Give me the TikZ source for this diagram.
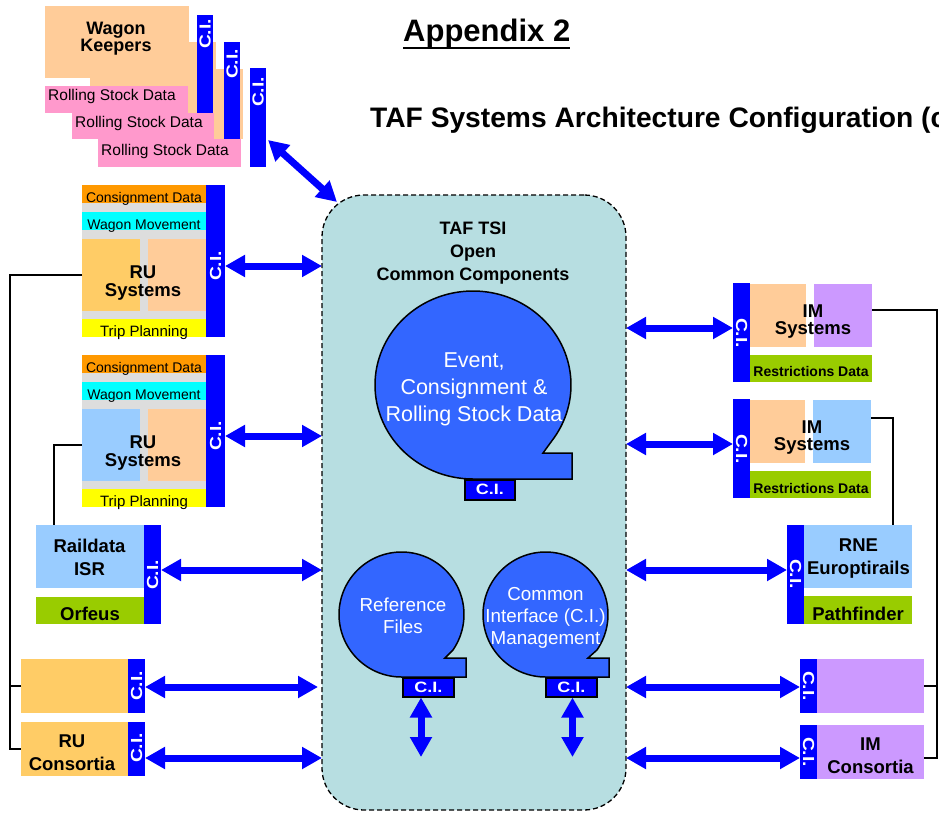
\documentclass[tikz,border=0pt]{standalone}
\usepackage{fontspec}
\setmainfont{Liberation Sans}
\usepackage{graphicx}
\usetikzlibrary{arrows.meta,calc}
\definecolor{peach}{HTML}{FFCC99}
\definecolor{gold}{HTML}{FFCC66}
\definecolor{orng}{HTML}{FF9900}
\definecolor{cyn}{HTML}{00FFFF}
\definecolor{yel}{HTML}{FFFF00}
\definecolor{lgray}{HTML}{DDDDDD}
\definecolor{lblue}{HTML}{99CCFF}
\definecolor{grn}{HTML}{99CC00}
\definecolor{purp}{HTML}{CC99FF}
\definecolor{pinkc}{HTML}{FF99CC}
\definecolor{cibl}{HTML}{0000FF}
\definecolor{circ}{HTML}{3366FF}
\definecolor{tafc}{RGB}{183,222,225}
\newcommand\mkbox[6]{\node[blk,fill=#2,minimum width=#5pt,minimum height=#6pt] (#1) at (#3,#4) {};}
\newcommand\cilabel{\scalebox{1.2}[1]{C.I.}}
\begin{document}
\begin{tikzpicture}[x=1pt,y=-1pt,
  blk/.style={rectangle,inner sep=0pt,outer sep=0pt,anchor=north west,draw=none},
  lbl/.style={inner sep=0pt,align=center,font=\fontsize{18.5}{17.5}\selectfont\bfseries},
  lblw/.style={inner sep=0pt,align=center,font=\fontsize{18.5}{23}\selectfont\bfseries},
  sm/.style={inner sep=0pt,anchor=base,font=\fontsize{14}{14}\selectfont},
  smb/.style={inner sep=0pt,anchor=base,font=\fontsize{14}{14}\selectfont\bfseries},
  rsd/.style={inner sep=0pt,anchor=base west,font=\fontsize{15.5}{15.5}\selectfont},
  citxt/.style={inner sep=0pt,text=white,font=\fontsize{16}{16}\selectfont\bfseries},
  citab/.style={rectangle,fill=cibl,draw=black,line width=1.5pt,inner sep=0pt,anchor=north west,text=white,font=\fontsize{15}{15}\selectfont\bfseries},
  tapeshape/.style={fill=circ,draw=black,line width=1.5pt},
  dbl/.style={draw=cibl,line width=7pt,{Triangle[length=20pt,width=21pt]}-{Triangle[length=20pt,width=21pt]}},
  conn/.style={draw=black,line width=2pt},
  wt/.style={inner sep=0pt,align=center,text=white}]
\useasboundingbox (0,0) rectangle (939,824);
\fill[white] (0,0) rectangle (939,824);
\clip (0,0) rectangle (939,824);

% titles
\node[anchor=base west,inner sep=0pt,font=\fontsize{31}{31}\selectfont\bfseries] (app) at (403,42) {Appendix 2};
\draw[line width=2.5pt] ([yshift=-6pt]app.base west) -- ([yshift=-6pt]app.base east);
\node[anchor=base west,inner sep=0pt,font=\fontsize{28.2}{28.2}\selectfont\bfseries] (ttl) at (370,128) {TAF Systems Architecture Configuration (c};

% wagon keepers (back to front)
\mkbox{wkpc}{peach}{117}{69}{126}{70}
\mkbox{wkrc}{pinkc}{98}{139}{143}{28}
\mkbox{wkcc}{cibl}{250}{68}{16}{99}
\mkbox{wkpb}{peach}{90}{42}{126}{71}
\mkbox{wkrb}{pinkc}{72}{113}{142}{26}
\mkbox{wkcb}{cibl}{224}{42}{16}{97}
\mkbox{wkpa}{peach}{45}{6}{144}{72}
\mkbox{wkra}{pinkc}{45}{86}{143}{27}
\mkbox{wkca}{cibl}{197}{15}{16}{98}
\node[lbl,font=\fontsize{18}{17}\selectfont\bfseries] (wkt) at (116,39) {Wagon\\Keepers};
\node[rsd] (wkta) at (48,101) {Rolling Stock Data};
\node[rsd] (wktb) at (75,128) {Rolling Stock Data};
\node[rsd] (wktc) at (101,155) {Rolling Stock Data};
\node[citxt,rotate=90] (wkia) at (205,34) {\cilabel};
\node[citxt,rotate=90] (wkib) at (232,64) {\cilabel};
\node[citxt,rotate=90] (wkic) at (258,92) {\cilabel};

% RU card 1
\mkbox{rua}{lgray}{82}{185}{124}{152}
\mkbox{ruacd}{orng}{82}{185}{124}{18}
\mkbox{ruawm}{cyn}{82}{212}{124}{18}
\mkbox{ruaa}{gold}{82}{239}{58}{72}
\mkbox{ruab}{peach}{148}{239}{58}{72}
\mkbox{ruatp}{yel}{82}{319}{124}{18}
\mkbox{ruaci}{cibl}{206}{185}{19}{152}
\node[sm] (ruat1) at (144,202) {Consignment Data};
\node[sm] (ruat2) at (144,229) {Wagon Movement};
\node[lbl] (ruat3) at (143,283) {RU\\Systems};
\node[sm,font=\fontsize{15}{15}\selectfont] (ruat4) at (144,336) {Trip Planning};
\node[citxt,rotate=90] (ruai) at (215.5,266) {\cilabel};

% RU card 2
\mkbox{rub}{lgray}{82}{355}{124}{152}
\mkbox{rubcd}{orng}{82}{355}{124}{18}
\mkbox{rubwm}{cyn}{82}{382}{124}{18}
\mkbox{rubba}{lblue}{82}{409}{58}{72}
\mkbox{rubbb}{peach}{148}{409}{58}{72}
\mkbox{rubtp}{yel}{82}{489}{124}{18}
\mkbox{rubci}{cibl}{206}{355}{19}{152}
\node[sm] (rubt1) at (144,372) {Consignment Data};
\node[sm] (rubt2) at (144,399) {Wagon Movement};
\node[lbl] (rubt3) at (143,453) {RU\\Systems};
\node[sm,font=\fontsize{15}{15}\selectfont] (rubt4) at (144,506) {Trip Planning};
\node[citxt,rotate=90] (rubi) at (215.5,436) {\cilabel};

% Raildata ISR
\mkbox{rd}{lblue}{36}{525}{108}{63}
\mkbox{orf}{grn}{36}{597}{108}{27}
\mkbox{rdci}{cibl}{144}{525}{17}{99}
\node[lblw] (rdt) at (89.5,557) {Raildata\\ISR};
\node[inner sep=0pt,anchor=base,font=\fontsize{18.5}{18.5}\selectfont\bfseries] (orft) at (90,620) {Orfeus};
\node[citxt,rotate=90] (rdi) at (152.5,575) {\cilabel};

% RU lower boxes
\mkbox{rux}{gold}{21}{659}{107}{54}
\mkbox{ruxci}{cibl}{128}{659}{17}{54}
\node[citxt,rotate=90] (ruxi) at (136.5,686) {\cilabel};
\mkbox{ruc}{gold}{21}{722}{107}{54}
\mkbox{rucci}{cibl}{128}{722}{17}{54}
\node[lblw] (ruct) at (72,752.5) {RU\\Consortia};
\node[citxt,rotate=90] (ruci) at (136.5,748) {\cilabel};

% IM card 1
\mkbox{imaci}{cibl}{733}{283}{17}{99}
\mkbox{imaa}{peach}{750}{284}{56}{63}
\mkbox{imab}{purp}{814}{284}{58}{63}
\mkbox{imard}{grn}{750}{355}{122}{27}
\node[lbl] (imat) at (813,321.5) {IM\\Systems};
\node[smb] (imat2) at (811,376) {Restrictions Data};
\node[citxt,rotate=-90] (imai) at (741.5,333) {\cilabel};

% IM card 2
\mkbox{imbci}{cibl}{733}{399}{17}{99}
\mkbox{imba}{peach}{750}{400}{55}{63}
\mkbox{imbb}{lblue}{813}{400}{58}{63}
\mkbox{imbrd}{grn}{750}{471}{121}{27}
\node[lbl] (imbt) at (812,437.5) {IM\\Systems};
\node[smb] (imbt2) at (811,493) {Restrictions Data};
\node[citxt,rotate=-90] (imbi) at (741.5,449) {\cilabel};

% RNE
\mkbox{rneci}{cibl}{787}{525}{17}{99}
\mkbox{rne}{lblue}{804}{525}{108}{63}
\mkbox{pf}{grn}{804}{596}{108}{28}
\node[lblw] (rnet) at (858.5,559) {RNE\\Europtirails};
\node[inner sep=0pt,anchor=base,font=\fontsize{18.5}{18.5}\selectfont\bfseries] (pft) at (858,620) {Pathfinder};
\node[citxt,rotate=-90] (rnei) at (795.5,574) {\cilabel};

% IM lower boxes
\mkbox{imxci}{cibl}{800}{659}{17}{54}
\mkbox{imx}{purp}{817}{659}{107}{54}
\node[citxt,rotate=-90] (imxi) at (808.5,686) {\cilabel};
\mkbox{imcci}{cibl}{800}{725}{17}{54}
\mkbox{imc}{purp}{817}{725}{107}{54}
\node[lblw] (imct) at (870.5,755.5) {IM\\Consortia};
\node[citxt,rotate=-90] (imci) at (808.5,752) {\cilabel};

% container
\node[blk,draw=black,dash pattern=on 5pt off 3pt,line width=1.3pt,fill=tafc,rounded corners=42pt,minimum width=304pt,minimum height=615pt] (taf) at (322,195) {};
\node[inner sep=0pt,align=center,font=\fontsize{18}{23}\selectfont\bfseries] (taft) at (473,253) {TAF TSI\\Open\\Common Components};

% storage shapes
\draw[tapeshape] plot[domain=90:396,samples=160] ({473+98*cos(\x)},{385+94*sin(\x)}) -- (543,453) -- (572,453) -- (572,479) -- cycle;
\node[wt,font=\fontsize{21.5}{27}\selectfont] (evt) at (474,389.5) {Event,\\Consignment \&\\Rolling Stock Data};
\node[citab,minimum width=50pt,minimum height=20pt] (taba) at (464,479) {\cilabel};

\draw[tapeshape] plot[domain=90:394.6,samples=120] ({401.5+62.5*cos(\x)},{614.5+62.5*sin(\x)}) -- (445,658) -- (466,658) -- (466,677) -- cycle;
\node[wt,font=\fontsize{18.8}{22.3}\selectfont] (reft) at (403,615.5) {Reference\\Files};
\node[citab,minimum width=51pt,minimum height=19pt] (tabb) at (402,677) {\cilabel};

\draw[tapeshape] plot[domain=90:394.6,samples=120] ({545.5+62.5*cos(\x)},{614.5+62.5*sin(\x)}) -- (588,658) -- (609,658) -- (609,677) -- cycle;
\node[wt,font=\fontsize{18.8}{22.3}\selectfont] (cit) at (545.5,618) {Common\\Interface (C.I.)\\Management};
\node[citab,minimum width=51pt,minimum height=19pt] (tabc) at (545,677) {\cilabel};

% vertical arrows
\coordinate (vb) at (421,757);
\coordinate (vc) at (572.5,757);
\draw[dbl] (tabb.south -| vb) -- (vb);
\draw[dbl] (tabc.south -| vc) -- (vc);

% horizontal arrows
\coordinate (wka) at ($(wkcc.east)+(2,22.5)$);
\coordinate (wkb) at (337,202);
\draw[dbl] (wka) -- (wkb);
\coordinate (la) at ($(ruaci.east)+(0,5)$);
\coordinate (lb) at ($(rubci.east)+(0,5)$);
\coordinate (lc) at ($(rdci.east)+(0,-4.5)$);
\coordinate (ld) at ($(ruxci.east)+(0,1)$);
\coordinate (le) at ($(rucci.east)+(0,9)$);
\draw[dbl] (la) -- (la -| taf.west);
\draw[dbl] (lb) -- (lb -| taf.west);
\draw[dbl] (lc) -- (lc -| taf.west);
\draw[dbl] (ld) -- ($(ld -| taf.west)+(-4,0)$);
\draw[dbl] (le) -- (le -| taf.west);
\coordinate (ra) at ($(imaci.west)+(0,-4.5)$);
\coordinate (rb) at ($(imbci.west)+(0,-4.5)$);
\coordinate (rc) at ($(rneci.west)+(0,-4.5)$);
\coordinate (rd2) at ($(imxci.west)+(0,1)$);
\coordinate (re) at ($(imcci.west)+(0,6)$);
\draw[dbl] (ra -| taf.east) -- (ra);
\draw[dbl] (rb -| taf.east) -- (rb);
\draw[dbl] (rc -| taf.east) -- (rc);
\draw[dbl] (rd2 -| taf.east) -- (rd2);
\draw[dbl] (re -| taf.east) -- (re);

% black connectors
\draw[conn] (ruaa.west) -| ($(ruc.west)+(-11,0)$) -- (ruc.west);
\draw[conn] (rux.west) -- ++(-11,0);
\draw[conn] (rubba.west) -| ($(rd.north west)+(18,0)$);
\draw[conn] ($(imab.east)+(0,-5.5)$) -| ($(imc.east)+(13,6)$) -- ($(imc.east)+(0,6)$);
\draw[conn] (imx.east) -- ++(13,0);
\draw[conn] ($(imbb.east)+(0,-13.5)$) -| ($(rne.north east)+(-19,0)$);
\end{tikzpicture}
\end{document}
